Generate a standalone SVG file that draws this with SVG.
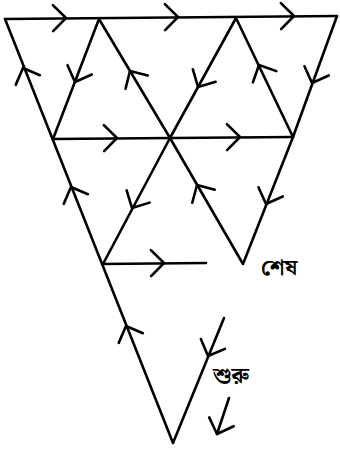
<svg xmlns="http://www.w3.org/2000/svg" width="340" height="450" viewBox="0 0 340 450">
<style>
.ln{stroke:#000;stroke-width:2.6;fill:none;stroke-linecap:round;stroke-linejoin:round}
.lbl{font-family:"Noto Serif Bengali","Noto Sans Bengali","Lohit Bengali","Noto Sans",serif;font-size:22px;font-weight:bold;fill:#000}
</style>
<defs>
<path id="chev" class="ln" d="M-13,-13 L0,0 L-13,13"/>
</defs>
<rect width="340" height="450" fill="#fff"/>
<g id="connectors">
<path class="ln" d="M5,19 L337,16"/>
<path class="ln" d="M5,19 L173,443 L224,318"/>
<path class="ln" d="M337,16 L293,137 L243,264 L170,138 L103,264 M103,264 L206,263"/>
<path class="ln" d="M53,139 L293,137"/>
<path class="ln" d="M53,139 L99,19 L170,138 L236,18 L293,137"/>
<path class="ln" d="M229,398 L217,434"/>
</g>
<g id="arrows">
<use href="#chev" transform="translate(66,18) rotate(-0.5)"/>
<use href="#chev" transform="translate(178,17) rotate(-0.5)"/>
<use href="#chev" transform="translate(294,16) rotate(-0.5)"/>
<use href="#chev" transform="translate(117,138) rotate(-0.5)"/>
<use href="#chev" transform="translate(240,137) rotate(-0.5)"/>
<use href="#chev" transform="translate(164,263) rotate(-0.5)"/>
<use href="#chev" transform="translate(23,68) rotate(-111.7)"/>
<use href="#chev" transform="translate(71,187) rotate(-111.7)"/>
<use href="#chev" transform="translate(126,326) rotate(-111.7)"/>
<use href="#chev" transform="translate(75,82) rotate(111)"/>
<use href="#chev" transform="translate(130,71) rotate(-120.8)"/>
<use href="#chev" transform="translate(198,87) rotate(118.8)"/>
<use href="#chev" transform="translate(259,65) rotate(-115.6)"/>
<use href="#chev" transform="translate(312,83) rotate(110.8)"/>
<use href="#chev" transform="translate(266,204) rotate(110.8)"/>
<use href="#chev" transform="translate(197,185) rotate(-120.1)"/>
<use href="#chev" transform="translate(132,208) rotate(118)"/>
<use href="#chev" transform="translate(208,356) rotate(112.2)"/>
<use href="#chev" transform="translate(217,434) rotate(109.9)"/>
</g>
<g id="label-end"><text class="lbl" x="261" y="275">শেষ</text></g>
<g id="label-start"><text class="lbl" x="213" y="383">শুরু</text></g>
</svg>
